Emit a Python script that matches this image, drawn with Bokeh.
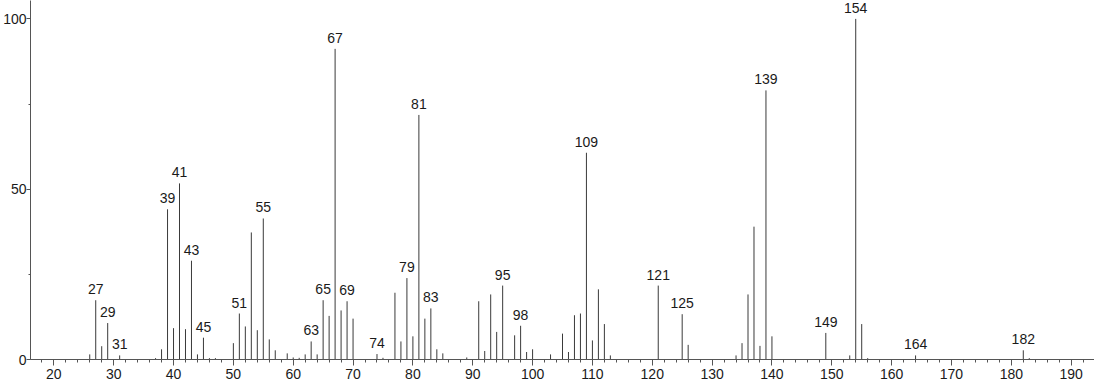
from bokeh.plotting import figure
from bokeh.models import ColumnDataSource, Range1d, SingleIntervalTicker
from bokeh.core.properties import value
from bokeh.embed import file_html
from bokeh.resources import INLINE

mz = [26, 27, 28, 29, 31, 37, 38, 39, 40, 41, 42, 43, 44, 45, 46, 47, 50, 51, 52, 53,
      54, 55, 56, 57, 59, 60, 61, 62, 63, 64, 65, 66, 67, 68, 69, 70, 74, 75, 77, 78,
      79, 80, 81, 82, 83, 84, 85, 89, 91, 92, 93, 94, 95, 97, 98, 99, 100, 103, 105, 106,
      107, 108, 109, 110, 111, 112, 113, 121, 125, 126, 134, 135, 136, 137, 138, 139, 140,
      149, 153, 154, 155, 156, 164, 182, 183]
intensity = [1.5, 17.4, 3.9, 10.7, 1.2, 0.4, 3.0, 44.1, 9.2, 51.7, 8.9, 29.0, 1.5, 6.4, 0.4, 0.4, 4.8, 13.5, 9.7, 37.3,
             8.6, 41.4, 5.9, 2.7, 1.8, 0.6, 0.5, 1.5, 5.3, 1.5, 17.4, 12.8, 91.2, 14.4, 17.1, 12.0, 1.6, 0.5, 19.6, 5.3,
             23.9, 6.8, 71.8, 12.0, 15.0, 3.0, 1.8, 0.6, 17.1, 2.5, 19.1, 8.1, 21.7, 7.1, 9.9, 2.2, 3.0, 1.5, 7.6, 2.2,
             13.0, 13.5, 60.7, 5.6, 20.6, 10.4, 1.2, 21.7, 13.3, 4.3, 1.2, 4.8, 19.1, 39.0, 4.0, 79.0, 6.8,
             7.8, 1.2, 100.0, 10.4, 0.4, 1.2, 2.7, 0.4]
labeled_mz = [27, 29, 31, 39, 41, 43, 45, 51, 55, 63, 65, 67, 69, 74, 79, 81, 83, 95, 98,
              109, 121, 125, 139, 149, 154, 164, 182]

FONT = "Liberation Sans"

lookup = dict(zip(mz, intensity))
src = ColumnDataSource(dict(x=mz, y0=[0] * len(mz), y=intensity))
lab = ColumnDataSource(dict(x=labeled_mz, y=[lookup[m] for m in labeled_mz],
                            t=[str(m) for m in labeled_mz]))

p = figure(width=1094, height=384, output_backend="svg", toolbar_location=None,
           x_range=Range1d(16.1, 193.9), y_range=Range1d(0, 105.4),
           min_border_left=30, min_border_right=0, min_border_top=0, min_border_bottom=25)
p.outline_line_color = None
p.xgrid.visible = False
p.ygrid.visible = False
p.background_fill_color = "white"
p.border_fill_color = "white"

p.segment(x0="x", y0="y0", x1="x", y1="y", source=src, line_color="#3a3a3a", line_width=1)
p.text(x="x", y="y", text="t", source=lab, text_align="center", text_baseline="bottom",
       y_offset=-6, text_font=value(FONT), text_font_size="14px", text_color="#1a1a1a")

p.xaxis.ticker = SingleIntervalTicker(interval=10, num_minor_ticks=5)
p.yaxis.ticker = SingleIntervalTicker(interval=50, num_minor_ticks=2)
for ax in (p.xaxis, p.yaxis):
    ax.axis_line_color = "#555555"
    ax.major_tick_line_color = "#555555"
    ax.minor_tick_line_color = "#555555"
    ax.major_label_text_font = FONT
    ax.major_label_text_font_size = "14px"
    ax.major_label_text_color = "#1a1a1a"
    ax.major_tick_in = 0
    ax.minor_tick_in = 0
p.xaxis.major_tick_out = 6
p.xaxis.minor_tick_out = 3
p.xaxis.major_label_standoff = 3
p.yaxis.major_tick_out = 4
p.yaxis.minor_tick_out = 2
p.yaxis.major_label_standoff = 0

open("out.html", "w").write(file_html(p, INLINE))
